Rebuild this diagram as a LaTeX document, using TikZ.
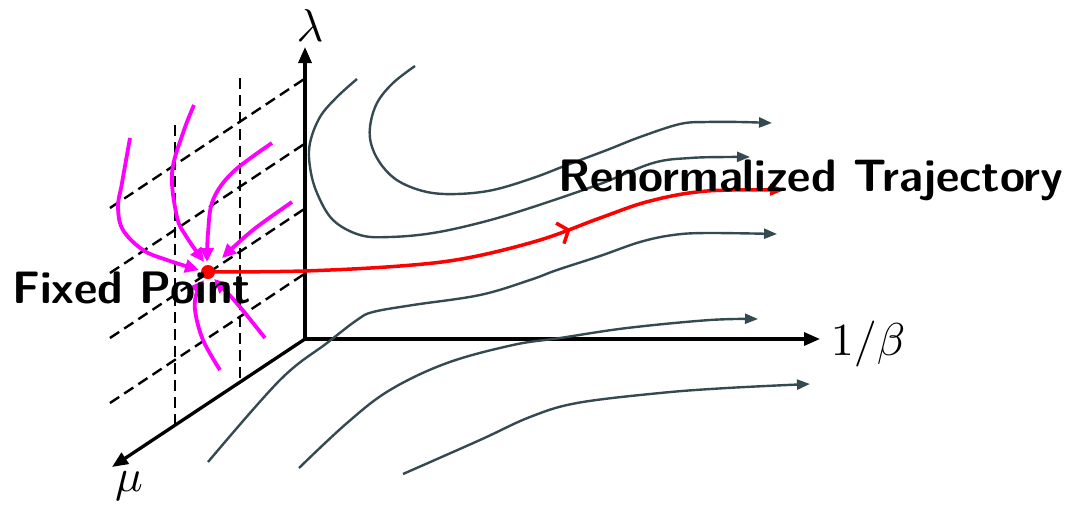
\documentclass[tikz,border=0pt]{standalone}
\usepackage{graphicx}
\usetikzlibrary{arrows.meta,decorations.markings}
\definecolor{flowgray}{RGB}{52,74,80}
\definecolor{fpred}{RGB}{255,0,0}
\definecolor{flowmag}{RGB}{255,0,255}
\newcommand{\axlabelmath}[1]{\scalebox{4.6}{$#1$}}
\tikzset{
  axisline/.style={line width=3.3pt, -{Triangle[length=16pt,width=13pt]}},
  gridline/.style={line width=2.4pt, dash pattern=on 11pt off 6pt},
  flowline/.style={flowgray, line width=2.4pt, -{Triangle[length=13pt,width=10pt]}},
  magline/.style={flowmag, line width=3.8pt, -{Triangle[length=14pt,width=13pt]}},
  bigmath/.style={inner sep=0pt},
  bigtext/.style={font=\fontsize{45.5}{50}\selectfont\sffamily\bfseries, inner sep=0pt},
}
\begin{document}
\begin{tikzpicture}[x=1pt,y=-1pt]
\useasboundingbox (0,0) rectangle (1073,504);
% coordinates of the axes
\coordinate (O) at (305,339);
\coordinate (Ltip) at (305,47);
\coordinate (Btip) at (820,339);
\coordinate (Mtip) at (112,467);
% dashed grid
\foreach \y in {208,273,338,403}{
  \draw[gridline] (110,\y) -- ++(195,-129.5);
}
\draw[gridline] (175,125) -- (175,425);
\draw[gridline] (240,78) -- (240,382);
% axes
\draw[axisline] (O) -- (Ltip);
\draw[axisline] (O) -- (Btip);
\draw[axisline] (O) -- (Mtip);
\node[bigmath] (lam) at (310,26) {\axlabelmath{\lambda}};
\node[bigmath] (beta) at (868,344) {\axlabelmath{1/\beta}};
\node[bigmath] (mu) at (129,486) {\axlabelmath{\mu}};
% gray flow lines
\draw[flowline] plot[smooth, tension=0.6] coordinates {(415,66) (393,83) (377,103) (370,127) (372,147) (383,167) (400,182) (427,192) (457,194) (493,190) (533,178) (567,165) (607,150) (640,137) (680,124) (707,122) (740,122) (772,123)};
\draw[flowline] plot[smooth, tension=0.6] coordinates {(357,79) (337,97) (320,117) (310,143) (310,167) (317,193) (333,220) (360,235) (390,237) (433,233) (483,222) (533,207) (600,184) (653,163) (690,158) (727,157) (750,157)};
\draw[flowline] plot[smooth, tension=0.6] coordinates {(208,462) (280,380) (327,343) (357,320) (373,312) (413,305) (480,295) (530,280) (557,270) (600,256) (640,242) (673,235) (707,233) (777,234)};
\draw[flowline] plot[smooth, tension=0.6] coordinates {(299,468) (347,423) (390,390) (447,363) (513,345) (560,338) (627,328) (710,320) (758,319)};
\draw[flowline] plot[smooth, tension=0.6] coordinates {(403,474) (480,440) (530,417) (577,403) (660,393) (727,388) (810,384)};
% fixed point
\node[circle, fill=fpred, inner sep=0pt, minimum size=14pt] (fp) at (208,272) {};
% renormalized trajectory
\draw[fpred, line width=3.5pt, -{Triangle[length=15pt,width=11pt]},
  postaction={decorate},
  decoration={markings, mark=at position 0.625 with {\arrow[fpred, line width=3.5pt]{Straight Barb[length=9pt,width=22pt]}}}]
  plot[smooth, tension=0.6] coordinates {(208,272) (303,271) (400,266) (467,258) (540,240) (600,218) (650,201) (707,191) (785,190)};
% magenta flows into the fixed point
\draw[magline] plot[smooth, tension=0.6] coordinates {(130,138) (122,183) (118,207) (123,230) (143,250) (167,260) (199,270)};
\draw[magline] plot[smooth, tension=0.6] coordinates {(194,105) (183,133) (172,173) (177,217) (186,236) (204,262)};
\draw[magline] plot[smooth, tension=0.6] coordinates {(272,143) (233,172) (213,200) (208,233) (207,262)};
\draw[magline] plot[smooth, tension=0.6] coordinates {(292,202) (253,230) (222,258)};
\draw[magline] plot[smooth, tension=0.6] coordinates {(220,370) (203,340) (195,310) (197,292) (204,280)};
\draw[magline] plot[smooth, tension=0.6] coordinates {(265,338) (240,307) (223,288) (214,279)};
% labels
\node[bigtext, anchor=base west] (fplabel) at (12,303) {Fixed Point};
\node[bigtext, anchor=base west] (rtlabel) at (558,191) {Renormalized Trajectory};
\end{tikzpicture}
\end{document}
